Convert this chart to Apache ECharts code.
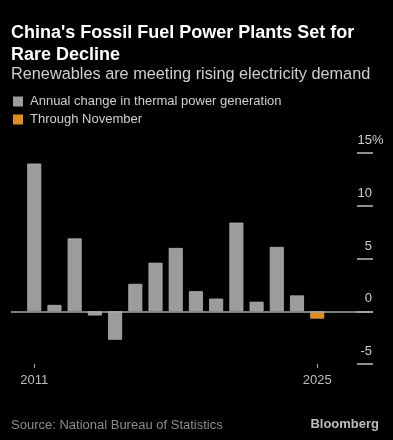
<!DOCTYPE html>
<html><head><meta charset="utf-8">
<script src="https://cdn.jsdelivr.net/npm/echarts@6/dist/echarts.min.js"></script>
<style>html,body{margin:0;padding:0;background:#000;}#c{width:393px;height:440px;}</style>
</head><body><div id="c"></div>
<script>
const years = [2011,2012,2013,2014,2015,2016,2017,2018,2019,2020,2021,2022,2023,2024,2025];
const annualChange = [14.0,0.6,6.9,-0.4,-2.7,2.6,4.6,6.0,1.9,1.2,8.4,0.9,6.1,1.5,null];
const throughNovember = [null,null,null,null,null,null,null,null,null,null,null,null,null,null,-0.7];
const xTickLabels = [2011, 2025];
const yTicks = [-5, 0, 5, 10, 15];

const FONT = '"Liberation Sans", Arial, sans-serif';
const chart = echarts.init(document.getElementById('c'));
chart.setOption({
  backgroundColor: '#000',
  animation: false,
  textStyle: {fontFamily: FONT},
  title: [
    {text: "China's Fossil Fuel Power Plants Set for\nRare Decline", left: 6, top: 17,
     textStyle: {color: '#fff', fontSize: 18, fontWeight: 'bold', lineHeight: 22, fontFamily: FONT}},
    {text: 'Renewables are meeting rising electricity demand', left: 6, top: 62,
     textStyle: {color: '#cfcfcf', fontSize: 16.3, fontWeight: 'normal', fontFamily: FONT}},
    {text: 'Source: National Bureau of Statistics', left: 6, top: 414,
     textStyle: {color: '#8c8c8c', fontSize: 13, fontWeight: 'normal', fontFamily: FONT}},
    {text: 'Bloomberg', right: 9, top: 413,
     textStyle: {color: '#bdbdbd', fontSize: 13, fontWeight: 'bold', fontFamily: FONT}}
  ],
  legend: {
    orient: 'vertical', left: 8, top: 90, itemWidth: 10, itemHeight: 10, itemGap: 5,
    icon: 'rect', selectedMode: false,
    itemStyle: {borderWidth: 0},
    textStyle: {color: '#cfcfcf', fontSize: 13, fontFamily: FONT, padding: [0,0,0,2]},
    data: ['Annual change in thermal power generation', 'Through November']
  },
  grid: {left: 11, right: 20, top: 153, bottom: 76, containLabel: false},
  xAxis: {
    type: 'value', min: 2009.85, max: 2027.76,
    splitLine: {show: false},
    axisLine: {show: false, onZero: false},
    axisTick: {show: true, customValues: xTickLabels, length: 4, lineStyle: {color: '#aaa'}},
    axisLabel: {customValues: xTickLabels, color: '#bdbdbd', fontSize: 13, margin: 10,
      formatter: v => String(v)}
  },
  yAxis: {
    type: 'value', position: 'right', min: -5, max: 15, interval: 5,
    splitLine: {show: false},
    axisLine: {show: false},
    axisTick: {show: true, inside: true, length: 16, lineStyle: {color: '#bdbdbd', width: 1.5}},
    axisLabel: {inside: true, margin: -10.6, color: '#cfcfcf', fontSize: 13, verticalAlign: 'bottom',
      padding: [0, 0, 6, 0],
      formatter: v => v === 15 ? '{n|15%}' : '{n|' + v + '}{h|%}',
      rich: {n: {color: '#cfcfcf', fontSize: 13}, h: {color: 'rgba(0,0,0,0)', fontSize: 13}}}
  },
  series: [
    {name: 'Annual change in thermal power generation', type: 'bar', stack: 's', barWidth: 14,
     itemStyle: {color: '#9c9c9c', borderColor: '#b3b3b3', borderWidth: 0.8},
     data: years.map((y, i) => [y, annualChange[i]]),
     markLine: {silent: true, symbol: 'none', label: {show: false},
       lineStyle: {color: '#a8a8a8', width: 1.5, type: 'solid'},
       data: [{yAxis: 0}]}
    },
    {name: 'Through November', type: 'bar', stack: 's', barWidth: 14,
     itemStyle: {color: '#e08d1f', borderColor: '#e8a040', borderWidth: 0.8},
     data: years.map((y, i) => [y, throughNovember[i]])
    }
  ]
});
</script></body></html>
